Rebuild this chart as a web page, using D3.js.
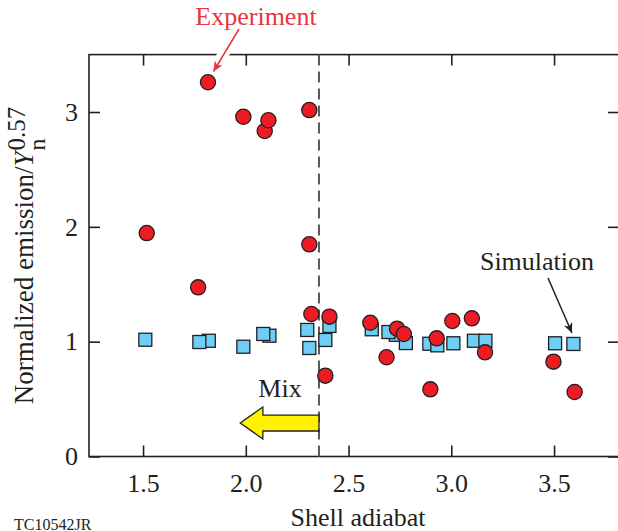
<!DOCTYPE html>
<html>
<head>
<meta charset="utf-8">
<script src="https://cdn.jsdelivr.net/npm/d3@7"></script>
<style>
  html, body { margin: 0; padding: 0; background: #fff; }
  svg { display: block; }
  text { font-family: "Liberation Serif", "Times New Roman", serif; fill: #231f20; }
</style>
</head>
<body>
<svg id="chart" width="618" height="531"></svg>
<script>
// Measured emission, normalized to Y_n^0.57, against shell adiabat
const expAdiabat  = [1.518, 1.768, 1.816, 1.988, 2.092, 2.110, 2.309, 2.309, 2.319, 2.407, 2.387,
                     2.606, 2.685, 2.736, 2.769, 2.898, 2.929, 3.005, 3.100, 3.164, 3.497, 3.600];
const expEmission = [1.946, 1.473, 3.259, 2.959, 2.835, 2.928, 3.017, 1.848, 1.241, 1.218, 0.704,
                     1.165, 0.864, 1.113, 1.067, 0.585, 1.029, 1.180, 1.203, 0.907, 0.826, 0.562];

// Simulated emission
const simAdiabat  = [1.511, 1.820, 1.774, 1.988, 2.115, 2.085, 2.299, 2.309, 2.387, 2.407,
                     2.613, 2.730, 2.694, 2.779, 2.893, 2.932, 3.010, 3.110, 3.166, 3.505, 3.594];
const simEmission = [1.017, 1.008, 0.997, 0.956, 1.052, 1.067, 1.102, 0.945, 1.015, 1.137,
                     1.108, 1.060, 1.084, 0.988, 0.982, 0.968, 0.986, 1.008, 1.008, 0.986, 0.980];

const xTicks = [1.5, 2.0, 2.5, 3.0, 3.5];
const yTicks = [0, 1, 2, 3];
const mixAdiabat = 2.356;   // mix threshold (dashed line)

const svg = d3.select("#chart");
const pLeft = 89, pRight = 619, pTop = 54.6, pBottom = 456.5;

const x = d3.scaleLinear().domain([1.237, 3.816]).range([pLeft, pRight]);
const y = d3.scaleLinear().domain([0, 3.5]).range([pBottom, pTop]);

const ink = "#231f20";
const fs = 26;

// Frame
svg.append("rect")
  .attr("x", pLeft).attr("y", pTop)
  .attr("width", pRight - pLeft).attr("height", pBottom - pTop)
  .attr("fill", "none").attr("stroke", ink).attr("stroke-width", 1.6);

// Axes: inward ticks on all four sides
const axB = svg.append("g").attr("transform", `translate(0,${pBottom})`)
  .call(d3.axisBottom(x).tickValues(xTicks).tickFormat(d3.format(".1f"))
        .tickSize(-11).tickSizeOuter(0).tickPadding(17));
const axT = svg.append("g").attr("transform", `translate(0,${pTop})`)
  .call(d3.axisTop(x).tickValues(xTicks).tickFormat("").tickSize(-11).tickSizeOuter(0));
const axL = svg.append("g").attr("transform", `translate(${pLeft},0)`)
  .call(d3.axisLeft(y).tickValues(yTicks).tickFormat(d3.format("d"))
        .tickSize(-11).tickSizeOuter(0).tickPadding(11));
const axR = svg.append("g").attr("transform", `translate(${pRight},0)`)
  .call(d3.axisRight(y).tickValues(yTicks).tickFormat("").tickSize(-11).tickSizeOuter(0));

[axB, axT, axL, axR].forEach(g => {
  g.select(".domain").remove();
  g.selectAll(".tick line").attr("stroke", ink).attr("stroke-width", 1.6);
  g.selectAll(".tick text")
    .style("font-family", '"Liberation Serif", "Times New Roman", serif')
    .style("font-size", fs + "px").attr("fill", ink);
});

// Mix threshold
svg.append("line")
  .attr("x1", x(mixAdiabat)).attr("x2", x(mixAdiabat))
  .attr("y1", pTop).attr("y2", pBottom)
  .attr("stroke", "#58595b").attr("stroke-width", 2)
  .attr("stroke-dasharray", "11,6");

// Simulation squares
const sq = 13;
svg.append("g").selectAll("rect")
  .data(d3.zip(simAdiabat, simEmission))
  .join("rect")
  .attr("x", d => x(d[0]) - sq / 2)
  .attr("y", d => y(d[1]) - sq / 2)
  .attr("width", sq).attr("height", sq)
  .attr("fill", "#6dcff6").attr("stroke", ink).attr("stroke-width", 1.3);

// Experiment circles
svg.append("g").selectAll("circle")
  .data(d3.zip(expAdiabat, expEmission))
  .join("circle")
  .attr("cx", d => x(d[0])).attr("cy", d => y(d[1]))
  .attr("r", 7.6)
  .attr("fill", "#ed1c24").attr("stroke", ink).attr("stroke-width", 1.3);

// Mix arrow (points toward lower adiabat)
const ay0 = 0.361, ay1 = 0.222, ayTip = 0.292, ahTop = 0.431, ahBot = 0.153;
const headX = 2.083, tipX = 1.973;
const arrowPts = [
  [x(mixAdiabat), y(ay0)], [x(headX), y(ay0)], [x(headX), y(ahTop)],
  [x(tipX), y(ayTip)], [x(headX), y(ahBot)], [x(headX), y(ay1)], [x(mixAdiabat), y(ay1)]
];
svg.append("path")
  .attr("d", d3.line()(arrowPts) + "Z")
  .attr("fill", "#fff200").attr("stroke", ink).attr("stroke-width", 1.3)
  .attr("stroke-linejoin", "miter");

svg.append("text").attr("x", 280).attr("y", 397)
  .attr("text-anchor", "middle").style("font-size", fs + "px").text("Mix");

// Arrow markers
const defs = svg.append("defs");
function marker(id, color) {
  defs.append("marker").attr("id", id)
    .attr("viewBox", "0 0 10 10").attr("refX", 10).attr("refY", 5)
    .attr("markerWidth", 10).attr("markerHeight", 10)
    .attr("markerUnits", "userSpaceOnUse").attr("orient", "auto")
    .append("path").attr("d", "M0,0.5 L10,5 L0,9.5 L2.8,5 Z").attr("fill", color);
}
marker("headRed", "#e8343f");
marker("headBlack", ink);

// Experiment label and pointer
svg.append("line").attr("x1", 237).attr("y1", 32).attr("x2", 216).attr("y2", 66)
  .attr("stroke", "#fff").attr("stroke-width", 11);
svg.append("line").attr("x1", 239).attr("y1", 29).attr("x2", 213.5).attr("y2", 71.5)
  .attr("stroke", "#e8343f").attr("stroke-width", 1.5).attr("marker-end", "url(#headRed)");
svg.append("text").attr("x", 256).attr("y", 25)
  .attr("text-anchor", "middle").style("font-size", fs + "px")
  .style("fill", "#e8343f").text("Experiment");

// Simulation label and pointer
svg.append("line").attr("x1", 548).attr("y1", 278).attr("x2", 572).attr("y2", 333)
  .attr("stroke", ink).attr("stroke-width", 1.5).attr("marker-end", "url(#headBlack)");
svg.append("text").attr("x", 537).attr("y", 270)
  .attr("text-anchor", "middle").style("font-size", fs + "px").text("Simulation");

// Axis titles
svg.append("text").attr("x", 358).attr("y", 526)
  .attr("text-anchor", "middle").style("font-size", fs + "px").text("Shell adiabat");

// Rotated y title: "Normalized emission/Y" with superscript 0.57 stacked over subscript n
const yl = svg.append("text")
  .attr("transform", `translate(33,${(pTop + pBottom) / 2}) rotate(-90)`)
  .style("font-size", "27px");
const first = yl.append("tspan").text("Normalized emission/");
const yv = yl.append("tspan").style("font-style", "italic").text("Y");
const sup = yl.append("tspan").attr("dy", -8).attr("dx", 1).style("font-size", "25px").text("0.57");
const supLen = sup.node().getComputedTextLength();
yl.append("tspan").attr("dx", -supLen).attr("dy", 20).style("font-size", "24px").text("n");
const visible = first.node().getComputedTextLength() + yv.node().getComputedTextLength() + 1 + supLen;
first.attr("x", -visible / 2);

// Figure code, bottom left
svg.append("text").attr("x", 14).attr("y", 529.5)
  .style("font-size", "16px").text("TC10542JR");
</script>
</body>
</html>
